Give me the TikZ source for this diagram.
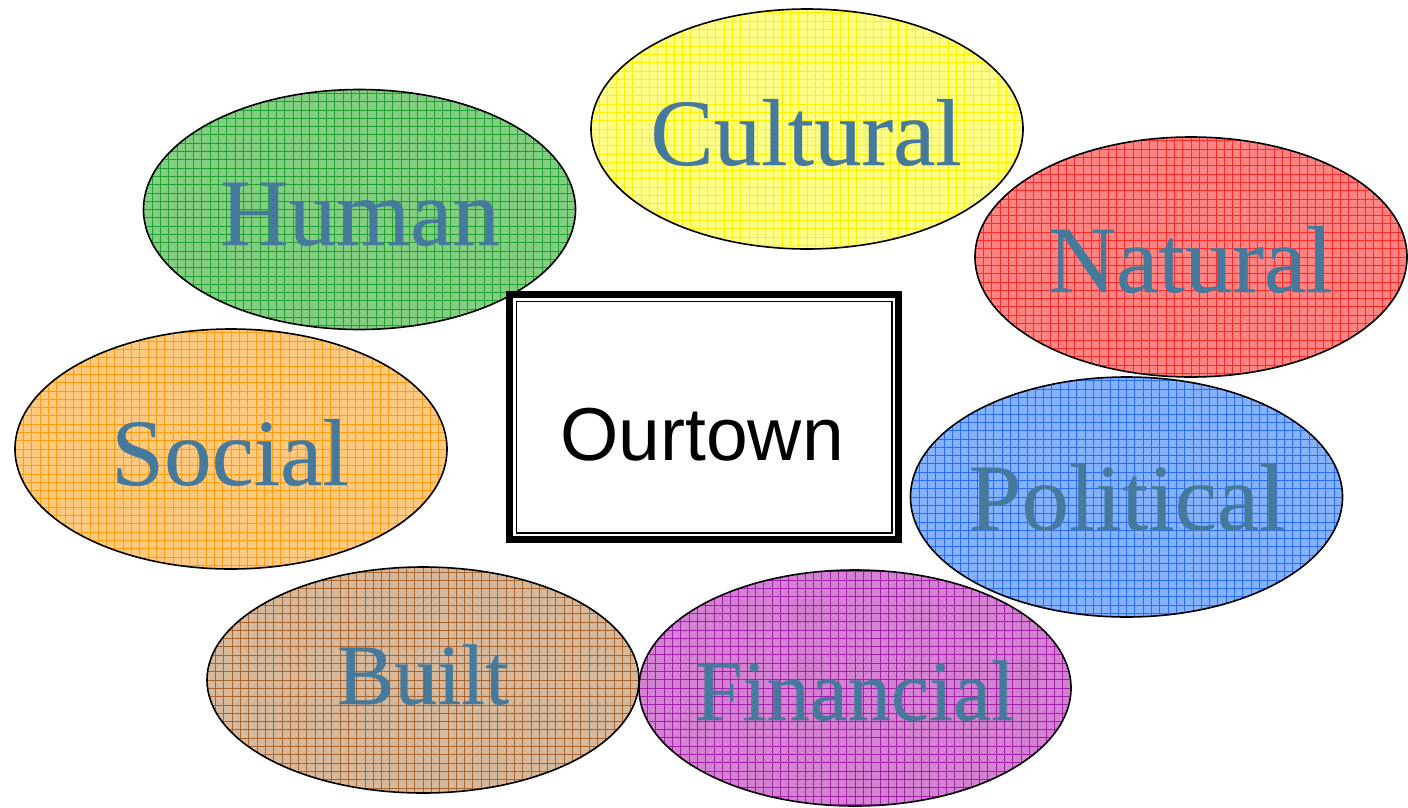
\documentclass[tikz,border=0pt]{standalone}
\usepackage{fontspec}
\setmainfont{Liberation Serif}
\newfontfamily\labelfont[FakeBold=0.3]{Liberation Serif}
\newfontfamily\arialfont{Liberation Sans}
\usetikzlibrary{shapes.geometric,calc}

\definecolor{labelblue}{HTML}{467A9C}
% fill / grid colour pairs for the capitals
\definecolor{humanfill}{HTML}{82CF82}   \definecolor{humangrid}{HTML}{22A033}
\definecolor{cultfill}{HTML}{FFFF85}    \definecolor{cultgrid}{HTML}{FFF200}
\definecolor{natfill}{HTML}{FF8585}     \definecolor{natgrid}{HTML}{FF2A2A}
\definecolor{socfill}{HTML}{FFCA80}     \definecolor{socgrid}{HTML}{FF9C10}
\definecolor{polfill}{HTML}{85B2FF}     \definecolor{polgrid}{HTML}{2A6BFF}
\definecolor{builtfill}{HTML}{D6B99C}   \definecolor{builtgrid}{HTML}{A8662E}
\definecolor{finfill}{HTML}{D481D4}     \definecolor{fingrid}{HTML}{A020A8}

\tikzset{
  capital/.style 2 args={ellipse, draw=black, line width=1.6pt, fill=#1,
    minimum width=432pt, minimum height=240pt, inner sep=0pt,
    path picture={\draw[#2, line width=0.7pt, step=8.3pt]
      (path picture bounding box.south west) grid (path picture bounding box.north east);}},
  caplabel/.style={anchor=base, text=labelblue, font=\labelfont\fontsize{95}{100}\selectfont, inner sep=0pt},
  smallcaplabel/.style={caplabel, font=\labelfont\fontsize{86}{90}\selectfont},
  townbox/.style={fill=white, minimum width=396pt, minimum height=252pt, inner sep=0pt},
}

\begin{document}
\begin{tikzpicture}[x=1pt, y=-1pt]
  \useasboundingbox (0,0) rectangle (1408,807);

  % the seven capitals
  \node[capital={humanfill}{humangrid}] (human) at (359.5,209.5) {};
  \node[capital={cultfill}{cultgrid}] (cultural) at (807,129) {};
  \node[capital={natfill}{natgrid}] (natural) at (1191,257) {};
  \node[capital={socfill}{socgrid}] (social) at (231,449) {};
  \node[capital={polfill}{polgrid}] (political) at (1126.5,497) {};
  \node[capital={builtfill}{builtgrid}, minimum height=226pt] (built) at (423,680) {};
  \node[capital={finfill}{fingrid}, minimum height=236pt] (financial) at (855,688) {};

  \node[caplabel] (humanlbl) at (360,245) {Human};
  \node[caplabel] (culturallbl) at (806,165) {Cultural};
  \node[caplabel] (naturallbl) at (1190,292) {Natural};
  \node[caplabel] (sociallbl) at (230,485) {Social};
  \node[caplabel] (politicallbl) at (1127,530) {Political};
  \node[smallcaplabel] (builtlbl) at (423,704) {Built};
  \node[smallcaplabel] (financiallbl) at (855,720) {Financial};

  % central town box with a double frame: thick outer line, thin inner line
  \node[townbox] (town) at (704,417) {};
  \draw[line width=7pt]
    ($(town.north west)+(3.5pt,-3.5pt)$) rectangle ($(town.south east)+(-3.5pt,3.5pt)$);
  \draw[line width=1.6pt]
    ($(town.north west)+(10.5pt,-10.5pt)$) rectangle ($(town.south east)+(-10.5pt,10.5pt)$);
  \node[anchor=base, inner sep=0pt, font=\arialfont\fontsize{75}{80}\selectfont]
    (townlbl) at (702,460) {Ourtown};
\end{tikzpicture}
\end{document}
